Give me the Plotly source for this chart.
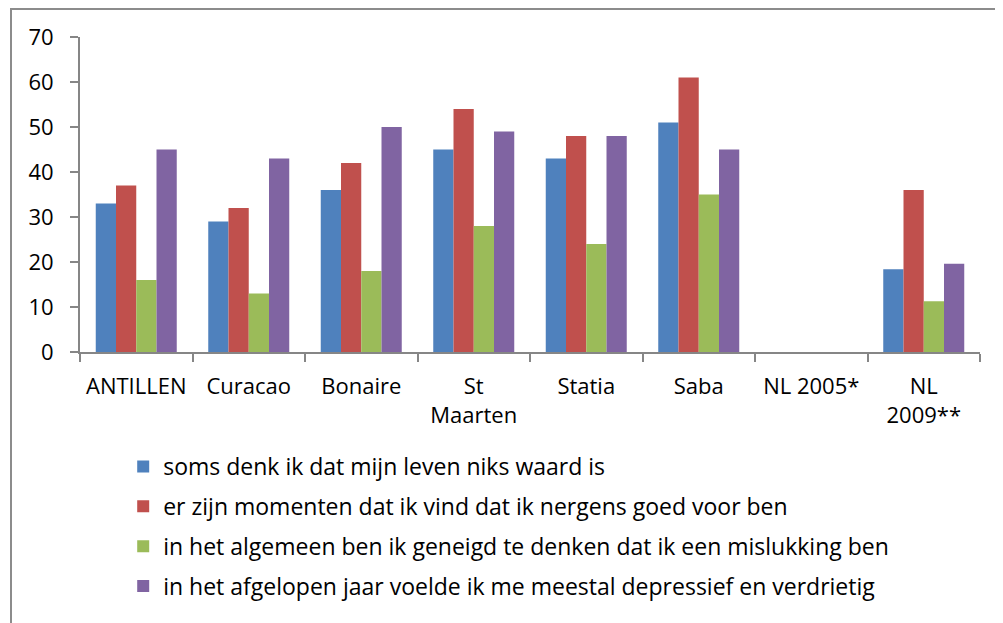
import plotly.graph_objects as go

categories = ["ANTILLEN", "Curacao", "Bonaire", "St<br>Maarten", "Statia", "Saba", "NL 2005*", "NL<br>2009**"]
series_names = [
    "soms denk ik dat mijn leven niks waard is",
    "er zijn momenten dat ik vind dat ik nergens goed voor ben",
    "in het algemeen ben ik geneigd te denken dat ik een mislukking ben",
    "in het afgelopen jaar voelde ik me meestal depressief en verdrietig",
]
values_waard = [33, 29, 36, 45, 43, 51, None, 18.4]
values_nergens = [37, 32, 42, 54, 48, 61, None, 36]
values_mislukking = [16, 13, 18, 28, 24, 35, None, 11.3]
values_depressief = [45, 43, 50, 49, 48, 45, None, 19.6]
colors = ["#4F81BD", "#C0504D", "#9BBB59", "#8064A2"]
y_ticks = [0, 10, 20, 30, 40, 50, 60, 70]

FONT = "Open Sans"
FS = 22
fig = go.Figure()
for i, (name, vals) in enumerate(zip(series_names,
                                     [values_waard, values_nergens, values_mislukking, values_depressief])):
    fig.add_trace(go.Bar(
        x=categories, y=vals, name=name, legendgroup=f"g{i}",
        marker=dict(color=colors[i], line=dict(width=0)),
    ))

axis_color = "#868686"
# page body has an 8px margin; plot area in screen px: x 80..980, y 37..352
fig.update_layout(
    width=995, height=615,
    margin=dict(l=72, r=23, t=29, b=271),
    paper_bgcolor="white", plot_bgcolor="white",
    barmode="group", bargap=0.28, bargroupgap=0,
    font=dict(family=FONT, size=FS, color="black"),
    showlegend=True,
    legend=dict(
        x=0.048, y=-0.295, xanchor="left", yanchor="top",
        xref="paper", yref="paper",
        orientation="v", traceorder="grouped",
        tracegroupgap=7,
        font=dict(family=FONT, size=23, color="black"),
        bgcolor="rgba(0,0,0,0)",
    ),
    xaxis=dict(
        showline=True, linecolor=axis_color, linewidth=2,
        ticks="outside", tickson="boundaries", ticklen=8, tickcolor=axis_color, tickwidth=2,
        showgrid=False, ticklabelstandoff=14,
        tickfont=dict(family=FONT, size=FS, color="black"),
    ),
    yaxis=dict(
        range=[0, 70], tickvals=y_ticks,
        showline=True, linecolor=axis_color, linewidth=2,
        ticks="outside", ticklen=8, tickcolor=axis_color, tickwidth=2,
        showgrid=False, zeroline=False,
        ticklabelstandoff=12,
        tickfont=dict(family=FONT, size=FS, color="black"),
    ),
    shapes=[dict(
        type="rect", xref="paper", yref="paper",
        x0=(11 - 80) / 900, x1=(1012 - 80) / 900,
        y0=(352 - 640) / 315, y1=(352 - 9) / 315,
        line=dict(color="#8c8c8c", width=2), fillcolor="rgba(0,0,0,0)", layer="below",
    )],
)

fig.write_html("out.html")
